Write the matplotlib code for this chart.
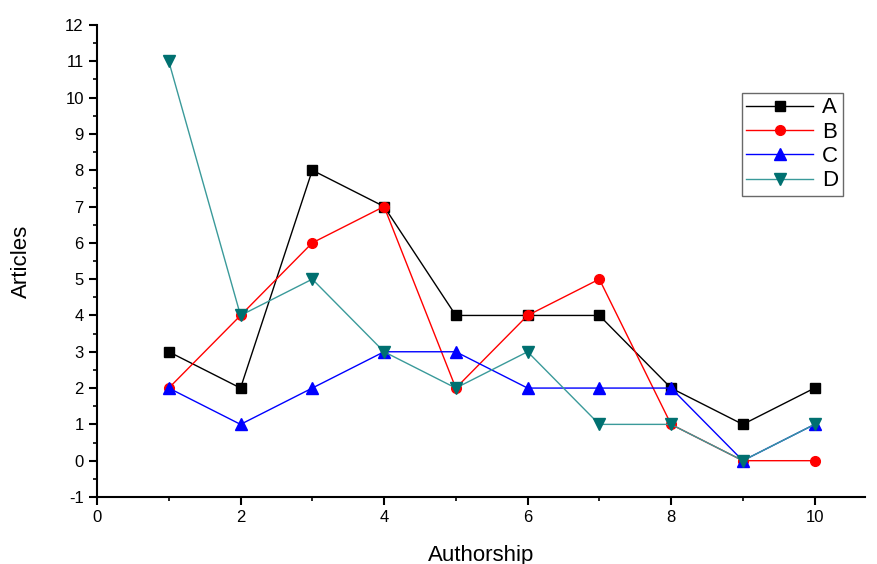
import matplotlib
matplotlib.use("Agg")
import matplotlib.pyplot as plt
from matplotlib.ticker import MultipleLocator

plt.rcParams['font.family'] = ['Liberation Sans', 'DejaVu Sans']
plt.rcParams['axes.unicode_minus'] = False

# data
authorship = [1, 2, 3, 4, 5, 6, 7, 8, 9, 10]
a_vals = [3, 2, 8, 7, 4, 4, 4, 2, 1, 2]
b_vals = [2, 4, 6, 7, 2, 4, 5, 1, 0, 0]
c_vals = [2, 1, 2, 3, 3, 2, 2, 2, 0, 1]
d_vals = [11, 4, 5, 3, 2, 3, 1, 1, 0, 1]

fig = plt.figure(figsize=(8.78, 5.64), dpi=100)
ax = fig.add_axes([0.1105, 0.1188, 0.8745, 0.8369])

ax.plot(authorship, a_vals, color='black', marker='s', ms=7, lw=1, label='A')
ax.plot(authorship, b_vals, color='red', marker='o', ms=7, lw=1, label='B')
ax.plot(authorship, c_vals, color='blue', marker='^', ms=8, lw=1, label='C')
ax.plot(authorship, d_vals, color='#3a9a9a', marker='v', ms=8, lw=1, label='D',
        markerfacecolor='#007070', markeredgecolor='#007070')

ax.set_xlim(0, 10.7)
ax.set_ylim(-1, 12)
ax.xaxis.set_major_locator(MultipleLocator(2))
ax.xaxis.set_minor_locator(MultipleLocator(1))
ax.yaxis.set_major_locator(MultipleLocator(1))
ax.yaxis.set_minor_locator(MultipleLocator(0.5))
ax.tick_params(which='major', direction='out', length=6, width=1.5, labelsize=12)
ax.tick_params(which='minor', direction='out', length=3, width=1.2)

for s in ['top', 'right']:
    ax.spines[s].set_visible(False)
for s in ['left', 'bottom']:
    ax.spines[s].set_linewidth(1.5)

ax.set_xlabel('Authorship', fontsize=16, labelpad=14)
ax.set_ylabel('Articles', fontsize=16, labelpad=24)

leg = ax.legend(loc='upper right', bbox_to_anchor=(0.971, 0.856), borderaxespad=0,
                fontsize=16, frameon=True, fancybox=False, edgecolor='#444444',
                handlelength=3.0, borderpad=0.2, labelspacing=0.15, handletextpad=0.4)
leg.get_frame().set_linewidth(1)

fig.savefig('out.png', dpi=100)
